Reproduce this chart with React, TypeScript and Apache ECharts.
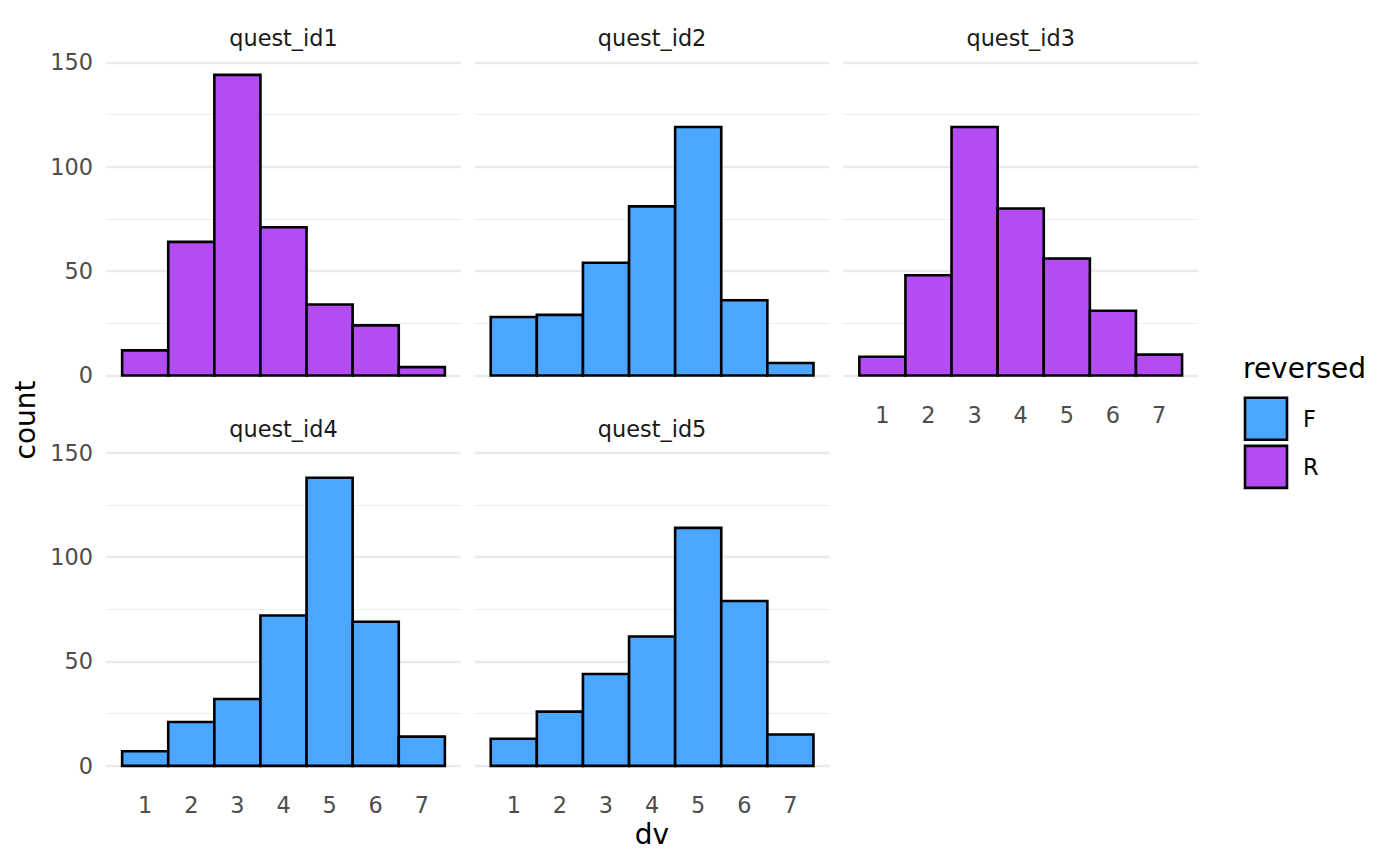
import { useEffect, useRef } from 'react';
import * as echarts from 'echarts';

// ---- data ----
const facetNames = ['quest_id1', 'quest_id2', 'quest_id3', 'quest_id4', 'quest_id5'];
const facetGroup = ['R', 'F', 'R', 'F', 'F'];
const dvValues = [1, 2, 3, 4, 5, 6, 7];
const countsQ1 = [12, 64, 144, 71, 34, 24, 4];
const countsQ2 = [28, 29, 54, 81, 119, 36, 6];
const countsQ3 = [9, 48, 119, 80, 56, 31, 10];
const countsQ4 = [7, 21, 32, 72, 138, 69, 14];
const countsQ5 = [13, 26, 44, 62, 114, 79, 15];
const facetCounts = [countsQ1, countsQ2, countsQ3, countsQ4, countsQ5];
const yMajorTicks = [0, 50, 100, 150];
const yMinorTicks = [25, 75, 125];
const groupNames = ['F', 'R'];
const groupColors: Record<string, string> = { F: '#4BA6FF', R: '#B34DF3' };

const FONT = 'DejaVu Sans';

export default function App() {
  const ref = useRef<HTMLDivElement>(null);

  useEffect(() => {
    document.body.style.margin = '0';
    const chart = echarts.init(ref.current!, undefined, { renderer: 'svg' });

    const lefts = [106, 474.6, 843.2, 106, 474.6];
    const tops = [59.8, 59.8, 59.8, 450.2, 450.2];
    const W = 355;
    const H = 330.7;
    const showX = [false, false, true, true, true];
    const showY = [true, false, false, true, false];
    const BORDER = 2.6;

    const grid = lefts.map((l, i) => ({ left: l, top: tops[i], width: W, height: H }));

    const xAxis = lefts.map((_, i) => ({
      type: 'value',
      gridIndex: i,
      min: 0.15,
      max: 7.85,
      axisLine: { show: false },
      axisTick: { show: false, customValues: dvValues },
      splitLine: { show: false },
      axisLabel: {
        show: showX[i],
        customValues: dvValues,
        color: '#4D4D4D',
        fontSize: 22.4,
        fontFamily: FONT,
        margin: 13,
      },
    }));

    const yAxis: any[] = [];
    lefts.forEach((_, i) => {
      yAxis.push({
        type: 'value',
        gridIndex: i,
        min: -7.2,
        max: 151.2,
        axisLine: { show: false },
        axisTick: { show: false, customValues: yMajorTicks },
        splitLine: { show: true, customValues: yMajorTicks, lineStyle: { color: '#EBEBEB', width: 2.4 } },
        axisLabel: {
          show: showY[i],
          customValues: yMajorTicks,
          color: '#4D4D4D',
          fontSize: 22.4,
          fontFamily: FONT,
          margin: 13,
        },
      });
      yAxis.push({
        type: 'value',
        gridIndex: i,
        min: -7.2,
        max: 151.2,
        axisLine: { show: false },
        axisTick: { show: false, customValues: yMinorTicks },
        splitLine: { show: true, customValues: yMinorTicks, lineStyle: { color: '#EEEEEE', width: 1.2 } },
        axisLabel: { show: false, customValues: yMinorTicks },
      });
    });

    const series = facetCounts.map((counts, i) => {
      const g = facetGroup[i];
      const fill = groupColors[g];
      return {
        type: 'custom',
        name: g,
        xAxisIndex: i,
        yAxisIndex: 2 * i,
        itemStyle: { color: fill, borderColor: '#000', borderWidth: BORDER },
        data: dvValues.map((d, j) => [d, counts[j]]),
        encode: { x: 0, y: 1 },
        renderItem: (_params: any, api: any) => {
          const x = api.value(0);
          const y = api.value(1);
          const p0 = api.coord([x - 0.5, y]);
          const p1 = api.coord([x + 0.5, 0]);
          return {
            type: 'rect',
            shape: { x: p0[0], y: p0[1], width: p1[0] - p0[0], height: p1[1] - p0[1] },
            style: { fill, stroke: '#000', lineWidth: BORDER },
          };
        },
      };
    });

    const graphic: any[] = [];
    facetNames.forEach((n, i) => {
      graphic.push({
        type: 'text',
        x: lefts[i] + W / 2,
        y: tops[i] - 21.5,
        style: { text: n, fontSize: 22.4, fontFamily: FONT, fill: '#1A1A1A', align: 'center', verticalAlign: 'middle' },
      });
    });
    graphic.push({
      type: 'text',
      x: 652,
      y: 834,
      style: { text: 'dv', fontSize: 28, fontFamily: FONT, fill: '#000', align: 'center', verticalAlign: 'middle' },
    });
    graphic.push({
      type: 'text',
      x: 25,
      y: 420,
      rotation: Math.PI / 2,
      style: { text: 'count', fontSize: 28, fontFamily: FONT, fill: '#000', align: 'center', verticalAlign: 'middle' },
    });
    graphic.push({
      type: 'text',
      x: 1243,
      y: 368,
      style: { text: 'reversed', fontSize: 28, fontFamily: FONT, fill: '#000', align: 'left', verticalAlign: 'middle' },
    });

    chart.setOption({
      animation: false,
      backgroundColor: '#fff',
      grid,
      xAxis,
      yAxis,
      series,
      graphic,
      legend: {
        orient: 'vertical',
        left: 1243.7,
        top: 396.5,
        padding: 0,
        itemWidth: 42,
        itemHeight: 42,
        itemGap: 3.5,
        icon: 'rect',
        selectedMode: false,
        textStyle: { fontSize: 22.4, fontFamily: FONT, color: '#000', padding: [0, 0, 0, 11] },
        data: groupNames.map((g) => ({
          name: g,
          itemStyle: { color: groupColors[g], borderColor: '#000', borderWidth: BORDER },
        })),
      },
    });

    return () => chart.dispose();
  }, []);

  return <div ref={ref} style={{ position: 'absolute', left: 0, top: 0, width: 1400, height: 865 }} />;
}
